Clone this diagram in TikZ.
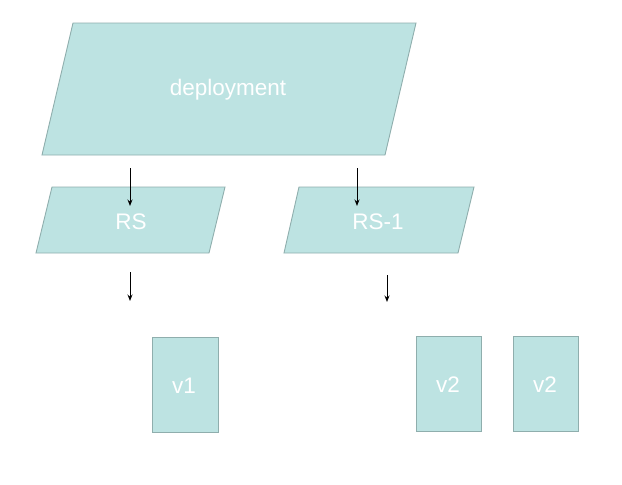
\documentclass[tikz,border=0pt]{standalone}
\usepackage{fontspec}
\setmainfont{Liberation Sans}
\usetikzlibrary{arrows.meta}
\definecolor{boxfill}{HTML}{BDE3E2}
\definecolor{boxline}{HTML}{8FAEAD}
\tikzset{
  shapebox/.style={fill=boxfill, draw=boxline, line width=0.9pt},
  lbl/.style={text=white, font=\fontsize{22.5}{27}\selectfont, inner sep=0pt},
  arr/.style={-{Stealth[length=6.5pt,width=5pt]}, line width=1pt, black}
}
\begin{document}
\begin{tikzpicture}[x=1pt,y=-1pt]
\useasboundingbox (0,0) rectangle (622,485);
% deployment
\draw[shapebox] (73,23) -- (416,23) -- (385,155) -- (42,155) -- cycle;
\node[lbl] (dep) at (228,90) {deployment};
% RS
\draw[shapebox] (52,187) -- (225,187) -- (209,253) -- (36,253) -- cycle;
\node[lbl] (rs) at (131,222) {RS};
% RS-1
\draw[shapebox] (299,187) -- (474,187) -- (458,253) -- (284,253) -- cycle;
\node[lbl] (rs1) at (378,222) {RS-1};
% pods
\draw[shapebox] (152,337) rectangle (218,432);
\node[lbl] (v1) at (184,386) {v1};
\draw[shapebox] (416,336) rectangle (481,431);
\node[lbl] (v2a) at (448,385) {v2};
\draw[shapebox] (513,336) rectangle (578,431);
\node[lbl] (v2b) at (545,385) {v2};
% arrows
\coordinate (a1s) at (130,168); \coordinate (a1e) at (130,206);
\coordinate (a2s) at (357,168); \coordinate (a2e) at (357,206);
\coordinate (a3s) at (130,272); \coordinate (a3e) at (130,301);
\coordinate (a4s) at (387,275); \coordinate (a4e) at (387,302);
\draw[arr] (a1s) -- (a1e);
\draw[arr] (a2s) -- (a2e);
\draw[arr] (a3s) -- (a3e);
\draw[arr] (a4s) -- (a4e);
\end{tikzpicture}
\end{document}
